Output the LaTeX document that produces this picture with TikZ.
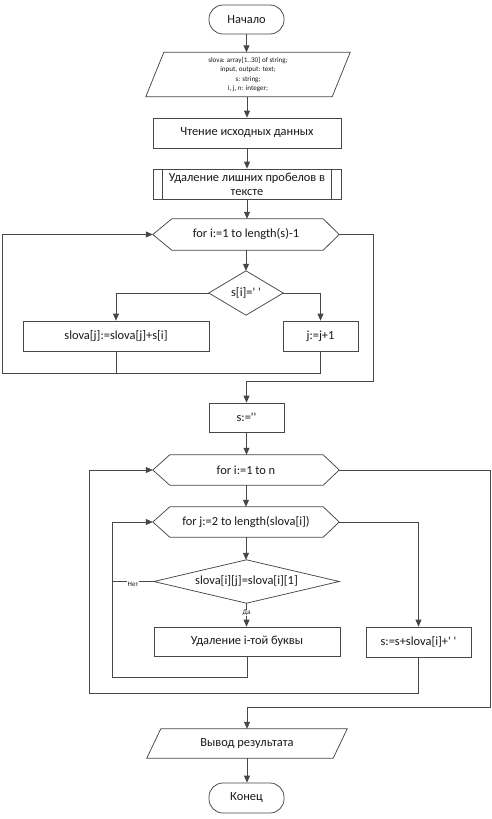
\documentclass[tikz,border=0pt]{standalone}
\usepackage{fontspec}
\setmainfont{Carlito}[Ligatures=TeXOff]
\usetikzlibrary{arrows.meta}
\begin{document}
\begin{tikzpicture}[x=1pt,y=-1pt,
  lc/.style={draw=black!72, line width=0.75pt},
  mainfont/.style={font=\fontsize{12.4}{14}\selectfont},
  box/.style={rectangle, lc, inner sep=0pt, mainfont, text=black!90, align=center},
  term/.style={box, rounded corners=14pt, minimum width=75pt, minimum height=29pt},
  blank/.style={rectangle, draw=none, inner sep=0pt, mainfont, text=black!90, align=center},
  arr/.style={lc, -{Triangle[length=7pt,width=6pt]}},
  lbl/.style={fill=white, inner sep=0.5pt, font=\fontsize{7}{8}\selectfont, text=black!90}
]
\fill[white] (0,0) rectangle (492,819);

% nodes
\node[term] (start) at (246.5,19.5) {Начало};

\node[blank, minimum width=186pt, minimum height=44pt, font=\fontsize{7.1}{9.3}\selectfont] (p1) at (248,74.5)
  {slova: array[1..30] of string;\\ input, output: text;\\ s: string;\\ i, j, n: integer;};
\draw[lc] ([xshift=9pt]p1.north west) -- ([xshift=9pt]p1.north east) -- ([xshift=-9pt]p1.south east) -- ([xshift=-9pt]p1.south west) -- cycle;

\node[box, minimum width=188pt, minimum height=30pt] (read) at (247,133) {Чтение исходных данных};

\node[box, minimum width=188pt, minimum height=30pt] (del) at (247,184) {Удаление лишних пробелов в\\тексте};
\draw[lc] ([xshift=10pt]del.north west) -- ([xshift=10pt]del.south west);
\draw[lc] ([xshift=-10pt]del.north east) -- ([xshift=-10pt]del.south east);

\node[blank, minimum width=186pt, minimum height=31pt] (hex1) at (246,234.5) {for i:=1 to length(s)-1};
\draw[lc] (hex1.west) -- ([xshift=19pt]hex1.north west) -- ([xshift=-16pt]hex1.north east) -- (hex1.east) -- ([xshift=-16pt]hex1.south east) -- ([xshift=19pt]hex1.south west) -- cycle;

\node[blank, minimum width=74pt, minimum height=44pt] (dia1) at (246,293) {s[i]=' '};
\draw[lc] (dia1.north) -- (dia1.east) -- (dia1.south) -- (dia1.west) -- cycle;

\node[box, minimum width=186pt, minimum height=30pt] (slova) at (116,336) {slova[j]:=slova[j]+s[i]};
\node[box, minimum width=75pt, minimum height=30pt] (jbox) at (320.5,336) {j:=j+1};

\node[box, minimum width=75pt, minimum height=29pt] (sbox) at (246.5,417.5) {s:=''};

\node[blank, minimum width=186pt, minimum height=30pt] (hex2) at (246,470) {for i:=1 to n};
\draw[lc] (hex2.west) -- ([xshift=17pt]hex2.north west) -- ([xshift=-16pt]hex2.north east) -- (hex2.east) -- ([xshift=-16pt]hex2.south east) -- ([xshift=17pt]hex2.south west) -- cycle;

\node[blank, minimum width=186pt, minimum height=30pt] (hex3) at (246,522) {for j:=2 to length(slova[i])};
\draw[lc] (hex3.west) -- ([xshift=17pt]hex3.north west) -- ([xshift=-16pt]hex3.north east) -- (hex3.east) -- ([xshift=-16pt]hex3.south east) -- ([xshift=17pt]hex3.south west) -- cycle;

\node[blank, minimum width=185pt, minimum height=43pt] (dia2) at (246.5,581.5) {slova[i][j]=slova[i][1]};
\draw[lc] (dia2.north) -- (dia2.east) -- (dia2.south) -- (dia2.west) -- cycle;

\node[box, minimum width=186pt, minimum height=29pt] (del2) at (247,641.5) {Удаление i-той буквы};
\node[box, minimum width=105pt, minimum height=30pt] (s2) at (418.5,642) {s:=s+slova[i]+' '};

\node[blank, minimum width=186pt, minimum height=29pt] (out) at (247,743.5) {Вывод результата};
\draw[lc] ([xshift=7pt]out.north west) -- ([xshift=7pt]out.north east) -- ([xshift=-7pt]out.south east) -- ([xshift=-7pt]out.south west) -- cycle;

\node[term, minimum height=30pt] (end) at (246.5,798) {Конец};

% coordinates for loops
\coordinate (c1) at (2,373);
\coordinate (c2) at (373,381);
\coordinate (c3) at (112,677);
\coordinate (c4) at (89,693);
\coordinate (c5) at (490,707);

% connectors
\draw[arr] (start.south) -- (start.south |- p1.north);
\draw[arr] (p1.south -| read.north) -- (read.north);
\draw[arr] (read.south) -- (del.north);
\draw[arr] (del.south) -- (del.south |- hex1.north);
\draw[arr] (hex1.south) -- (dia1.north);
\draw[arr] (dia1.west) -| (slova.north);
\draw[arr] (dia1.east) -| (jbox.north);
\draw[arr] (jbox.south) |- (c1) |- (hex1.west);
\draw[lc] (slova.south) -- (slova.south |- c1);
\draw[arr] (hex1.east) -| (c2) -| (sbox.north);
\draw[arr] (sbox.south) -- (sbox.south |- hex2.north);
\draw[arr] (hex2.south) -- (hex3.north);
\draw[arr] (hex3.south) -- (hex3.south |- dia2.north);
\draw[lc] (dia2.west) -- (dia2.west -| c3);
\node[lbl] (no) at (133,584) {Нет};
\draw[arr] (del2.south) |- (c3) |- (hex3.west);
\draw[arr] (dia2.south) -- (dia2.south |- del2.north);
\node[lbl] (yes) at (246.5,613) {Да};
\draw[arr] (hex3.east) -| (s2.north);
\draw[arr] (s2.south) |- (c4) |- (hex2.west);
\draw[arr] (hex2.east) -| (c5) -| (out.north);
\draw[arr] (out.south) -- (out.south |- end.north);
\end{tikzpicture}
\end{document}
